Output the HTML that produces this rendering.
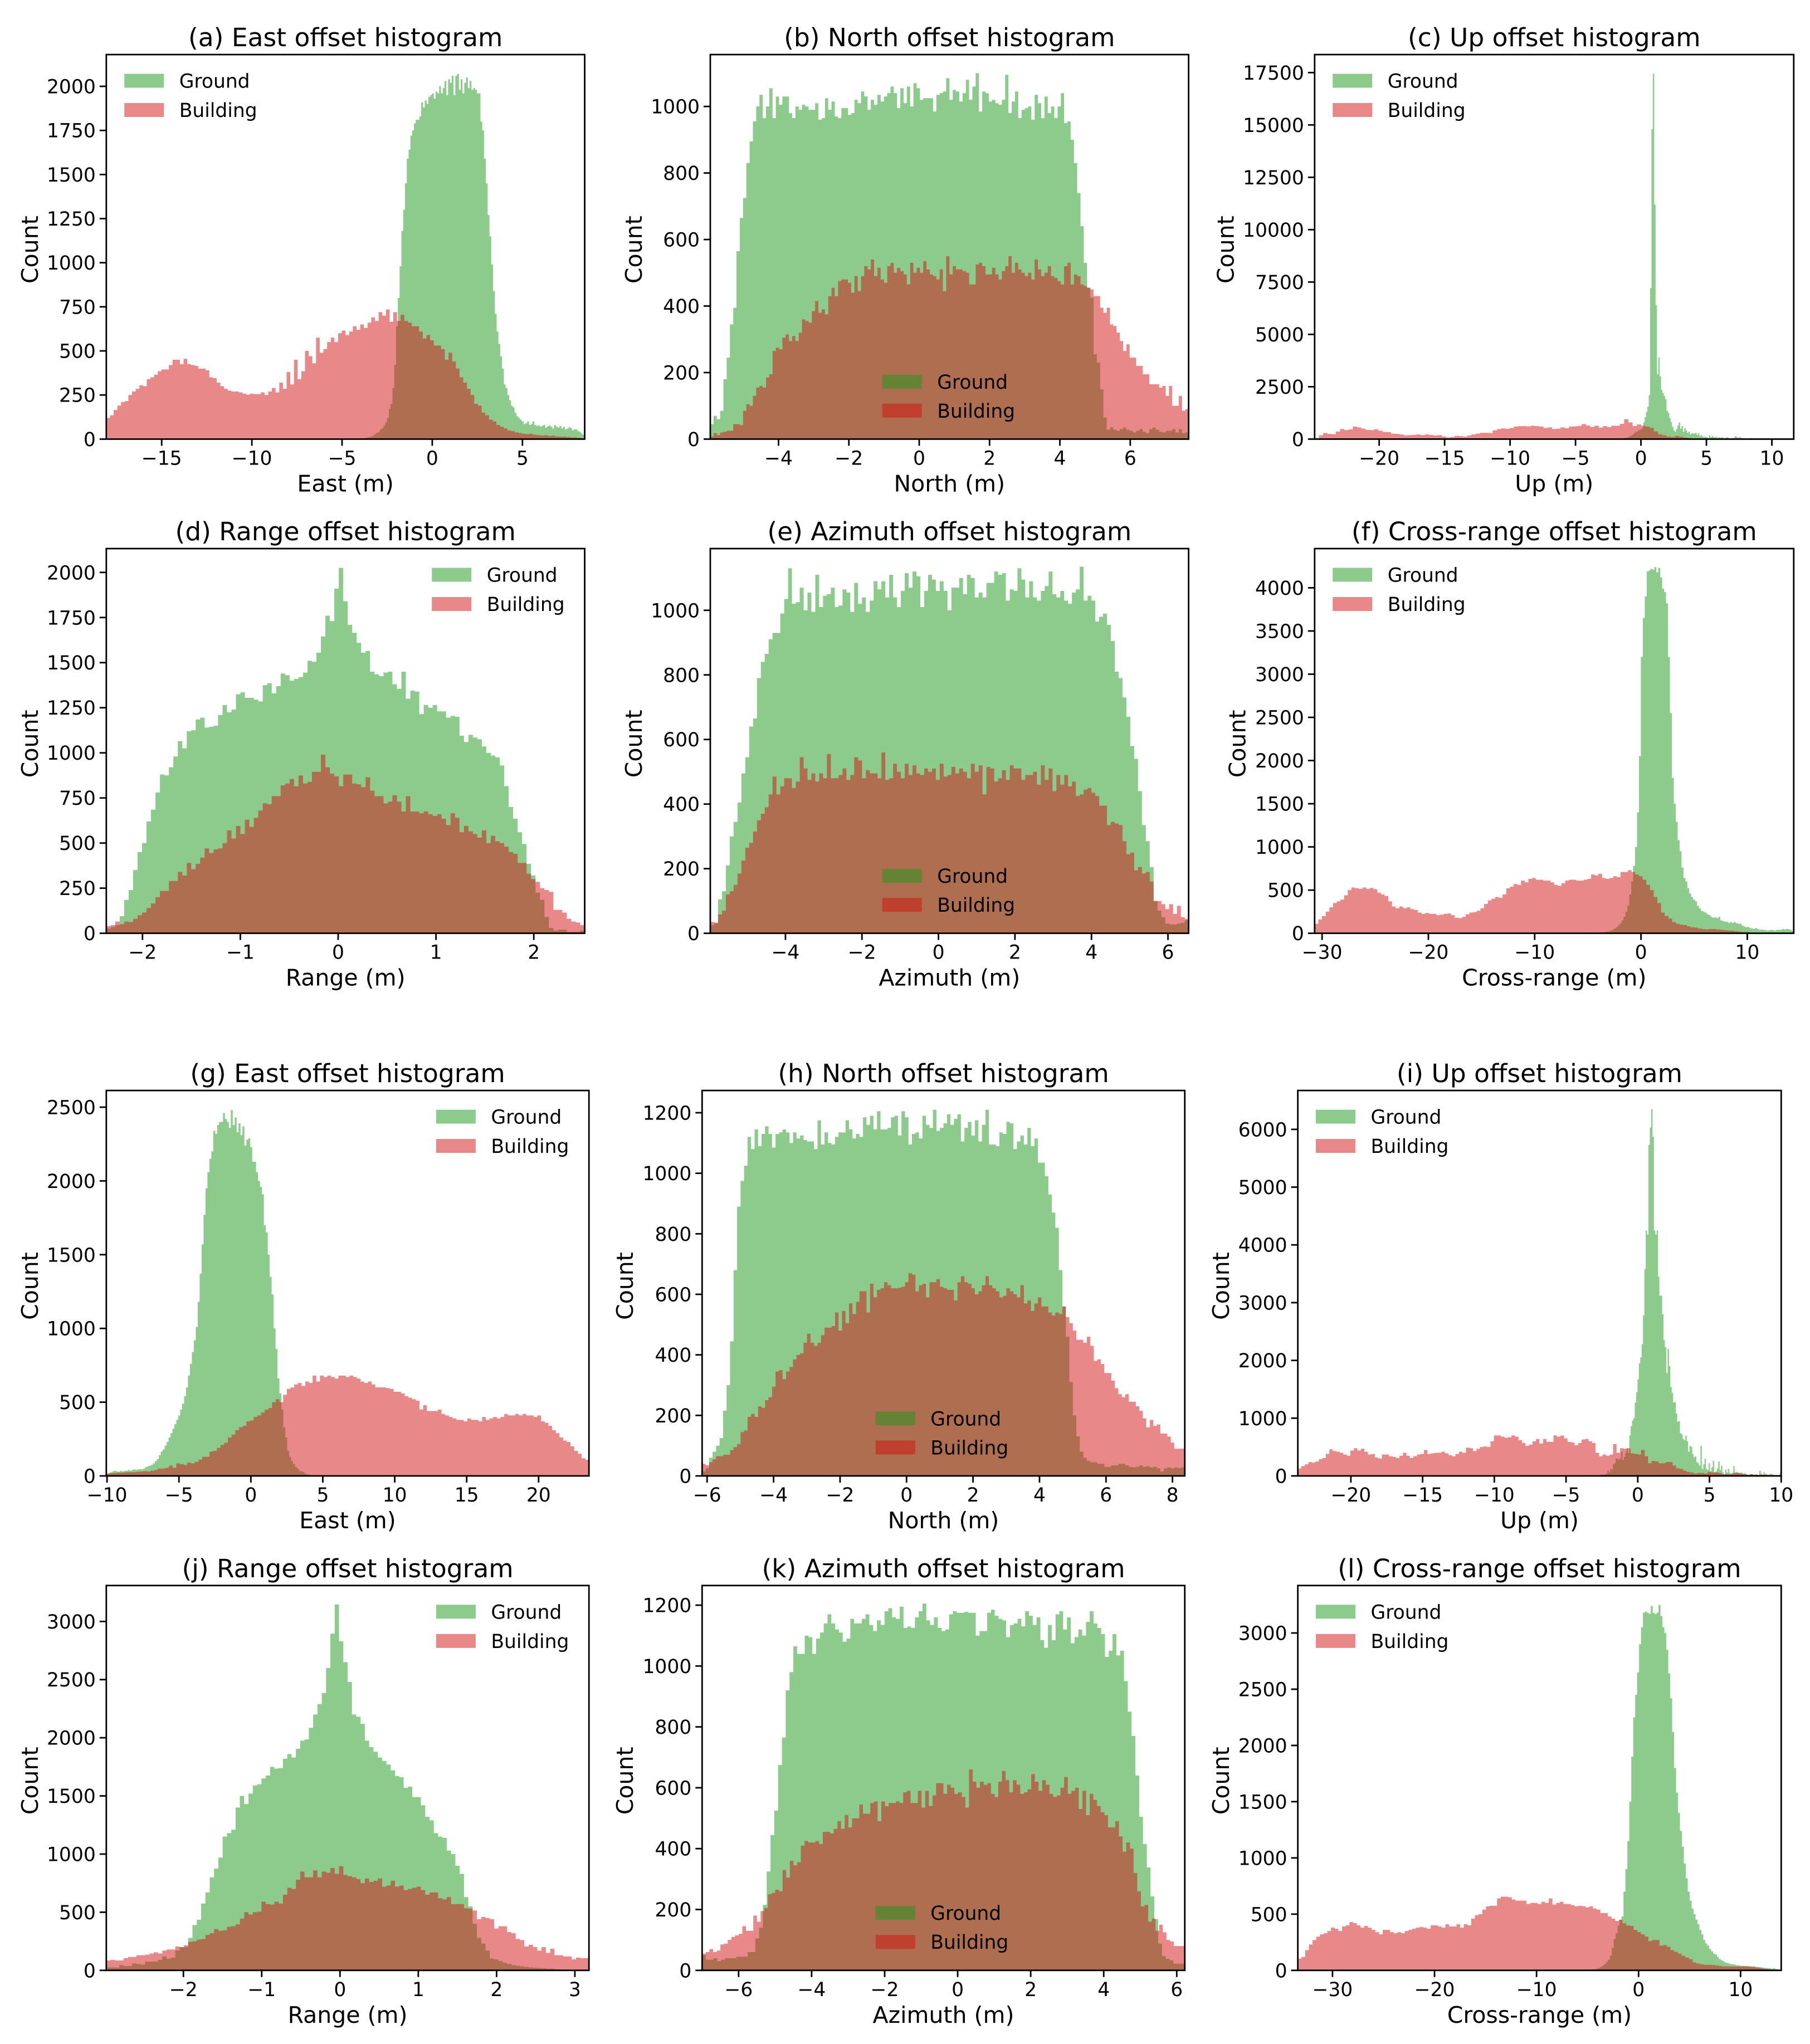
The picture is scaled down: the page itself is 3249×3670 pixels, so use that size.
<!DOCTYPE html>
<html lang="en">
<head>
<meta charset="utf-8">
<title>Offset histograms</title>
<style>
html,body{margin:0;padding:0;background:#fff;}
svg{display:block;}
text{font-family:"DejaVu Sans","Liberation Sans",sans-serif;fill:#000;}
</style>
</head>
<body>
<svg id="figure" width="3249" height="3670" viewBox="0 0 3249 3670" xmlns="http://www.w3.org/2000/svg"><rect width="3249" height="3670" fill="#fff"/></svg>
<script>
/* ---------- chart data: counts per bin ---------- */
const aGround=[2,4,5,8,10,12,16,20,28,35,40,55,62,75,95,120,170,200,290,420,640,800,980,1180,1300,1450,1590,1640,1720,1750,1790,1810,1810,1830,1910,1880,1920,1900,1940,1950,1960,1930,1970,1960,2000,1960,1990,2030,1950,2040,2020,2060,1950,2060,2070,1980,2040,1960,2020,2050,1990,2030,1980,1990,1980,1960,1960,1800,1750,1590,1450,1270,1150,990,840,710,610,540,470,400,310,290,250,220,190,180,150,130,120,110,100,85,90,100,80,85,100,80,75,78,70,75,80,65,72,78,70,60,80,70,65,75,60,70,55,60,68,62,50,55,55,45,40,30,25];
const aBuilding=[120,135,165,190,210,215,250,270,285,305,300,340,350,365,385,395,395,420,450,450,425,455,425,420,415,400,400,390,350,345,320,300,285,275,270,270,265,258,252,258,255,255,265,250,270,290,265,320,285,380,310,450,340,385,500,470,430,575,490,510,550,575,550,600,615,590,610,640,620,650,630,660,690,670,720,700,735,665,720,670,705,670,660,640,640,610,570,590,560,530,530,510,450,490,440,400,350,320,285,250,200,190,150,135,110,100,80,70,60,50,45,38,35,30,28,30,25,22,20,22,18,20,15,14,15,12,10,10,8,5];
const bGround=[45,70,60,85,180,245,345,395,565,665,725,830,895,955,1000,1035,965,1000,1055,965,1030,1005,1030,1030,980,965,1000,990,1005,1000,990,990,1010,960,965,1025,990,1015,970,965,995,995,975,980,1020,1010,1045,1030,990,1020,1005,1035,1015,1030,1040,1060,1040,995,1055,1010,1060,1000,1070,1055,1020,1025,1025,1025,985,1035,1040,1045,1085,1020,1050,1045,1015,1040,1080,1020,1060,1100,985,1045,1040,1015,1020,1010,1005,1020,1095,980,1015,1045,965,990,995,1000,960,1035,1010,965,1030,980,1000,965,1000,1040,950,955,900,830,740,640,530,455,425,255,230,150,65,28,35,28,25,30,35,28,25,20,25,30,22,18,30,35,28,22,20,25,25,30,20,30,18,20];
const bBuilding=[8,18,12,20,22,25,25,45,45,42,85,105,100,130,155,160,155,185,195,265,275,270,305,315,295,310,295,320,360,355,350,385,415,380,390,375,430,455,430,475,480,480,470,440,490,445,490,520,510,540,490,515,480,470,520,530,500,515,505,495,465,530,500,515,500,535,510,495,490,480,510,445,550,495,520,510,510,505,500,465,465,525,530,520,495,495,515,495,480,505,520,550,500,530,510,500,490,500,480,540,510,490,500,520,490,485,475,465,520,530,465,495,490,465,460,455,450,430,430,395,380,395,345,340,320,295,265,285,245,245,220,220,195,195,165,165,165,155,160,130,160,100,100,130,85,90];
const cGround=[20,30,40,50,60,80,100,150,180,220,280,340,350,400,430,460,520,800,1050,1300,1550,2100,7200,14800,17450,11200,6400,3100,3900,3000,2350,2200,2050,1900,1350,1250,1000,820,600,420,350,480,650,800,500,620,350,520,420,300,350,220,280,260,270,300,200,270,150,180,130,100,120,90,60,180,90,150,100,80,120,60,90,70,100,60,40,70,100,50,30,40,50,70,150,100,60,100,60,30,40,20,30,40,20,50,30,20,40,30,15,40,20,30,15,20,10,15,30,15,10,20,5,30,10,15,40,5,10,15,5,15,5,5,5,0,5];
const cBuilding=[50,180,290,250,230,360,480,430,460,600,560,500,440,430,470,400,340,330,260,250,220,180,190,200,220,190,220,200,170,190,130,80,100,150,140,120,170,220,260,300,300,290,420,480,510,490,530,600,620,620,610,640,620,600,530,560,480,500,560,520,600,610,630,720,650,580,640,550,620,570,640,640,730,950,800,620,700,640,600,540,370,230,180,120,100,150,110,70,50,40,30,30,20,15,20,12,10,10,8,6,5,4,3,3,3,2,2,2,1,1,1,1,0];
const dGround=[25,35,45,95,185,240,350,450,500,620,685,780,880,875,920,980,1065,1025,1120,1125,1185,1195,1140,1145,1150,1210,1265,1225,1240,1325,1335,1305,1305,1295,1285,1375,1385,1330,1370,1440,1430,1400,1410,1420,1445,1510,1505,1555,1645,1760,1730,1910,2025,1840,1710,1665,1610,1555,1565,1450,1435,1425,1445,1450,1380,1355,1450,1300,1345,1340,1215,1265,1250,1265,1230,1230,1195,1205,1200,1095,1060,1100,1085,1075,1035,1000,985,975,930,815,700,635,560,495,385,320,225,185,90,30,15,20,20,8,8,8,15];
const dBuilding=[40,45,65,50,65,62,80,100,115,140,165,200,235,235,290,290,340,320,390,355,385,420,470,445,465,470,500,570,525,595,550,630,590,640,680,720,715,760,760,820,830,855,815,875,830,840,895,895,990,920,885,870,815,880,880,830,825,810,865,790,760,760,720,730,765,730,675,760,675,675,665,675,660,650,660,635,600,665,640,560,595,565,550,530,570,500,540,510,500,480,450,440,390,390,330,300,285,250,240,230,130,130,115,80,65,60,45];
const eGround=[25,30,105,130,210,300,345,405,495,545,640,665,790,840,865,910,930,930,990,1035,1130,1020,1025,1070,1000,1055,995,1110,1010,1045,1050,1070,1010,1015,1065,1055,995,1085,1020,1040,995,1030,1090,1065,1090,1040,1110,1040,1010,1060,1115,1070,1120,1105,1010,1060,1110,1095,1060,1090,1060,1000,1070,1070,1100,1050,1110,1100,1040,1055,1040,1085,1085,1120,1110,1115,1030,1065,1060,1130,1095,1040,1090,1040,1030,1060,1075,1120,1050,1040,1060,1030,1020,1055,1065,1135,1030,1045,1030,965,980,990,955,905,810,790,730,670,580,540,440,335,285,205,100,70,50,30,28,27,30,32,40];
const eBuilding=[35,33,58,70,120,130,150,185,225,265,280,315,350,370,390,430,485,430,455,480,480,450,470,545,510,475,495,470,495,480,555,480,480,490,510,475,490,545,535,480,505,495,495,480,560,475,480,525,500,480,525,490,520,495,490,510,500,510,475,525,485,490,515,495,510,500,480,525,500,520,430,515,510,470,480,505,475,520,510,510,475,490,490,500,460,520,475,510,440,490,460,490,455,470,425,430,445,450,435,425,395,395,335,345,340,335,285,245,250,195,205,185,190,160,100,100,90,75,90,60,85,50,45];
const fGround=[2,3,5,6,8,10,12,15,18,22,30,40,55,70,90,115,150,190,250,320,450,600,780,1000,1400,2050,3200,3650,3900,4190,4200,4220,4210,4240,4180,4230,4120,3990,3950,3820,3200,2550,1800,1500,1290,1080,950,760,640,600,520,460,420,390,370,320,290,260,250,240,220,210,190,180,185,175,190,150,140,135,135,120,130,120,130,115,110,110,90,80,70,75,60,55,50,60,50,40,45,40,35,30,35,40,35,30,40,40,40,50,45,50,45,40,30];
const fBuilding=[110,160,200,250,300,350,370,390,440,500,530,520,515,530,515,525,510,470,450,430,370,310,290,310,290,300,280,270,240,225,235,225,225,210,215,225,230,210,180,175,190,220,240,245,260,290,340,380,400,420,410,450,520,540,570,560,610,590,630,640,620,620,610,610,590,560,550,580,610,620,620,610,610,620,630,680,670,690,640,630,640,660,650,710,710,730,710,680,660,620,560,500,420,350,240,200,170,130,110,100,95,80,70,65,55,50,45,50,50,45,40,35,32,30,25,20,15,15,10,8,6,5,4,3,2,2,1,1,1,0];
const gGround=[15,20,25,30,35,30,28,35,30,35,35,40,35,40,45,40,45,45,45,50,60,65,70,75,85,100,115,140,165,180,205,230,260,290,320,350,380,410,450,490,540,600,680,760,840,920,1010,1180,1370,1570,1770,1950,2060,2150,2200,2340,2320,2380,2400,2400,2460,2420,2400,2360,2480,2380,2430,2330,2390,2310,2370,2240,2280,2290,2230,2130,2130,2060,2000,1960,1910,1700,1650,1500,1350,1230,1000,860,660,560,450,330,260,170,130,100,80,60,50,35,30,25,15,10,8,5,5,4,3,3,2,2,1,1,1];
const gBuilding=[15,18,20,22,22,25,25,25,28,30,32,30,35,40,50,50,55,70,55,85,80,75,90,85,95,110,130,130,165,170,190,210,225,260,280,310,330,340,370,375,400,410,430,450,460,500,520,500,550,590,600,620,630,610,640,630,680,640,680,670,680,670,660,680,680,670,680,670,660,640,630,640,620,600,600,600,595,590,570,570,560,540,530,520,510,450,480,440,440,440,450,420,410,400,390,380,380,370,390,380,380,370,400,380,390,400,390,400,420,410,410,420,410,420,410,410,400,410,370,360,340,310,290,260,240,230,200,170,150,120,110];
const hGround=[15,25,60,80,100,125,215,300,445,680,890,975,1025,1120,1080,1145,1090,1130,1155,1130,1085,1130,1135,1145,1135,1100,1135,1115,1125,1110,1105,1105,1080,1175,1095,1135,1100,1095,1120,1135,1135,1175,1145,1115,1130,1120,1185,1160,1190,1145,1205,1145,1145,1150,1185,1190,1125,1205,1185,1095,1130,1135,1115,1190,1160,1150,1210,1140,1150,1165,1195,1160,1180,1195,1105,1150,1170,1125,1175,1105,1160,1210,1095,1095,1090,1135,1130,1170,1165,1080,1105,1125,1095,1150,1090,1115,1035,1035,990,930,870,820,680,560,460,310,200,130,80,60,50,45,45,40,40,30,30,35,35,40,40,35,30,28,30,35,30,32,28,30,25,15,25,28,25,28,26,28];
const hBuilding=[40,35,45,55,65,65,70,70,85,95,105,145,150,195,205,195,230,225,250,260,295,345,350,320,345,360,385,400,405,440,470,440,430,440,465,490,490,495,540,480,545,505,570,535,575,610,610,540,635,590,615,620,640,630,620,620,622,625,640,670,665,610,630,635,590,640,640,650,625,620,615,615,580,640,660,640,635,620,600,610,630,660,630,620,610,590,595,620,610,600,590,630,570,580,545,570,590,560,560,540,530,540,535,560,525,505,480,450,450,440,460,430,380,385,370,340,340,315,290,270,260,270,245,245,230,215,190,160,185,165,170,140,140,130,110,90,90,90];
const iGround=[5,5,5,5,5,5,5,5,5,5,5,5,10,15,10,15,20,20,20,30,40,90,60,120,110,200,220,300,300,280,300,420,280,330,400,480,400,700,860,960,1000,1270,1450,1670,1950,2050,2280,2780,3580,4250,4180,5730,6030,6350,5870,4250,4180,4250,3450,3120,3120,2800,2350,2230,1780,2200,1900,1540,1440,1270,1280,1080,940,950,740,720,640,620,700,600,420,520,500,380,320,340,240,220,180,520,120,200,300,120,100,220,80,150,260,60,80,130,250,100,180,60,30,110,60,120,50,40,40,170,60,70,60,50,60,50,40,50,30,20,10,30,30,20,20,30,20,10,90,40,20,60,30,30,20,30,40,30,20,10,20,10,20,60];
const iBuilding=[130,170,200,240,230,250,290,310,380,460,430,420,400,370,350,440,480,440,470,420,370,380,320,300,370,370,340,330,310,350,400,350,310,340,370,380,450,380,390,400,400,420,390,360,340,380,420,400,490,480,430,470,500,510,500,600,700,700,680,660,670,700,680,620,570,520,540,600,640,560,640,590,590,700,680,700,650,590,580,530,570,630,640,600,570,400,340,370,350,370,550,400,480,470,480,390,380,370,450,340,220,260,250,220,220,240,240,180,130,120,90,70,60,40,50,50,40,70,60,60,50,30,30,30,50,50,40,30,20,30,20,20,20,20,10,10,10,5];
const jGround=[25,25,25,45,38,38,60,55,50,75,75,75,90,120,100,110,170,200,200,280,390,435,575,670,800,875,970,1150,1180,1210,1400,1500,1430,1520,1590,1600,1650,1675,1750,1735,1740,1820,1860,1830,1905,1975,1985,2085,2200,2290,2385,2600,2895,3145,2830,2650,2480,2200,2180,2120,1975,1920,1880,1830,1800,1770,1720,1670,1660,1570,1580,1490,1490,1420,1320,1290,1180,1150,1140,1030,1000,900,830,630,550,400,280,230,170,100,95,80,65,55,45,40,35,30,25,22,20,18,15,15,10,8,8,6,5,4,3,2];
const jBuilding=[85,90,85,85,105,115,115,130,130,135,145,155,145,170,180,180,205,200,215,245,250,265,270,305,320,355,340,345,375,380,395,445,500,480,500,505,590,570,565,590,575,650,710,700,780,850,800,800,860,800,850,840,880,830,895,820,810,800,785,750,790,760,770,790,720,730,770,720,730,690,700,710,720,690,650,670,670,620,610,630,570,570,570,535,530,515,440,460,450,440,360,380,380,330,320,270,260,205,220,200,170,200,150,185,130,130,120,120,95,110,105,105];
const kGround=[50,35,35,40,30,35,40,40,40,45,45,45,60,60,105,140,215,325,445,525,675,765,920,980,1065,1040,1040,1100,1095,1040,1090,1110,1140,1170,1140,1120,1110,1080,1090,1155,1140,1140,1155,1170,1135,1115,1150,1135,1180,1190,1160,1155,1195,1125,1130,1125,1160,1180,1205,1150,1135,1160,1125,1115,1120,1170,1180,1175,1175,1178,1175,1175,1100,1115,1115,1175,1185,1165,1155,1150,1095,1135,1140,1155,1130,1180,1165,1135,1160,1085,1060,1135,1085,1170,1180,1120,1160,1075,1095,1120,1100,1145,1180,1140,1125,1105,1030,1050,1105,1035,1050,950,850,770,640,505,415,338,243,168,88,47,38,33,22,22,22];
const kBuilding=[55,60,70,60,65,85,88,100,110,115,120,145,130,130,180,160,195,205,250,255,265,260,330,305,360,345,355,410,425,420,420,425,415,455,455,450,465,490,465,510,470,500,500,545,515,515,550,555,490,555,540,550,550,555,550,585,590,550,550,590,535,590,540,575,615,615,580,610,600,580,585,570,535,660,620,600,620,610,615,580,570,620,655,625,585,625,610,580,585,595,645,620,590,625,610,580,570,575,600,635,580,590,600,530,590,510,580,560,540,520,510,470,470,490,440,390,420,400,320,260,210,215,160,170,130,150,125,100,95,80,80,80];
const lGround=[3,3,5,5,6,8,8,8,8,8,10,15,22,30,40,55,75,95,130,200,280,330,400,450,480,700,900,1150,1500,1900,2250,2450,2650,2900,3050,3180,3190,3180,3170,3240,3180,3170,3180,3250,3150,3050,3000,2850,2640,2420,2120,1800,1580,1400,1240,1100,950,820,700,620,550,500,450,410,360,320,270,240,220,190,170,150,140,120,100,90,80,70,65,60,55,55,50,45,45,40,40,38,38,35,35,35,35,30,30,28,25,22,22,20,18,15,20,12,10,8];
const lBuilding=[105,120,180,230,270,300,320,330,350,380,370,350,390,400,430,420,400,380,395,380,360,340,320,360,360,340,330,340,330,350,360,370,380,385,380,370,400,400,390,380,410,390,390,410,380,410,400,460,490,500,540,570,575,575,640,655,655,650,630,620,620,620,590,600,600,590,610,600,640,585,600,610,590,590,580,570,575,570,560,570,550,540,510,510,480,460,440,450,420,400,395,360,340,320,300,260,270,270,220,225,210,180,165,150,130,115,100,70,60,55,50,50,48,45,40,35,35,35,35,35,35,35,35,30,25,20,15,10,8,5,3];

/* bin ranges (metres) */
const aGroundRange=[-4,8.45], aBuildingRange=[-18.07,8.45];
const bGroundRange=[-5.94,7.66], bBuildingRange=[-5.94,7.66];
const cGroundRange=[-1.6,11.67], cBuildingRange=[-24.93,11.67];
const dGroundRange=[-2.37,2.52], dBuildingRange=[-2.37,2.52];
const eGroundRange=[-5.965,6.54], eBuildingRange=[-5.965,6.54];
const fGroundRange=[-4.74,14.37], fBuildingRange=[-30.7,14.37];
const gGroundRange=[-10.05,5.5], gBuildingRange=[-10.05,23.5];
const hGroundRange=[-6.15,8.37], hBuildingRange=[-6.15,8.37];
const iGroundRange=[-4.12,10], iBuildingRange=[-23.7,10];
const jGroundRange=[-2.985,3.18], jBuildingRange=[-2.985,3.18];
const kGroundRange=[-7,6.22], kBuildingRange=[-7,6.22];
const lGroundRange=[-6.25,13.98], lBuildingRange=[-33.4,13.98];

/* axis limits */
const aXLim=[-18.07,8.45], aYLim=[0,2180];
const bXLim=[-5.94,7.66], bYLim=[0,1156];
const cXLim=[-24.93,11.67], cYLim=[0,18360];
const dXLim=[-2.37,2.52], dYLim=[0,2132];
const eXLim=[-5.965,6.54], eYLim=[0,1191];
const fXLim=[-30.7,14.37], fYLim=[0,4454];
const gXLim=[-10.05,23.5], gYLim=[0,2613];
const hXLim=[-6.15,8.37], hYLim=[0,1273.5];
const iXLim=[-23.7,10], iYLim=[0,6673];
const jXLim=[-2.985,3.18], jYLim=[0,3309];
const kXLim=[-7,6.22], kYLim=[0,1264.5];
const lXLim=[-33.4,13.98], lYLim=[0,3422];

/* tick labels */
const aXTicks=[-15,-10,-5,0,5], aYTicks=[0,250,500,750,1000,1250,1500,1750,2000];
const bXTicks=[-4,-2,0,2,4,6], bYTicks=[0,200,400,600,800,1000];
const cXTicks=[-20,-15,-10,-5,0,5,10], cYTicks=[0,2500,5000,7500,10000,12500,15000,17500];
const dXTicks=[-2,-1,0,1,2], dYTicks=[0,250,500,750,1000,1250,1500,1750,2000];
const eXTicks=[-4,-2,0,2,4,6], eYTicks=[0,200,400,600,800,1000];
const fXTicks=[-30,-20,-10,0,10], fYTicks=[0,500,1000,1500,2000,2500,3000,3500,4000];
const gXTicks=[-10,-5,0,5,10,15,20], gYTicks=[0,500,1000,1500,2000,2500];
const hXTicks=[-6,-4,-2,0,2,4,6,8], hYTicks=[0,200,400,600,800,1000,1200];
const iXTicks=[-20,-15,-10,-5,0,5,10], iYTicks=[0,1000,2000,3000,4000,5000,6000];
const jXTicks=[-2,-1,0,1,2,3], jYTicks=[0,500,1000,1500,2000,2500,3000];
const kXTicks=[-6,-4,-2,0,2,4,6], kYTicks=[0,200,400,600,800,1000,1200];
const lXTicks=[-30,-20,-10,0,10], lYTicks=[0,500,1000,1500,2000,2500,3000];

/* ---------- layout ---------- */
const SVG_NS=document.getElementById('figure').namespaceURI;
const GROUND_FILL='#199719', BUILDING_FILL='#d11111', FILL_OPACITY=0.5;
const TICK_FS=34.5, LABEL_FS=41, TITLE_FS=45.5, LINE_W=2.8, TICK_LEN=12;
const COL_A={l:190.8,r:1049.5}, COL_B={l:1275,r:2133.6}, COL_C={l:2359.8,r:3219.8};
const COL_G={l:190.8,r:1057.2}, COL_H={l:1260.3,r:2126.7}, COL_I={l:2329.6,r:3197.3};
const ROW_1={t:98,b:788.4}, ROW_2={t:985,b:1675.7}, ROW_3={t:1958,b:2650}, ROW_4={t:2846.8,b:3537.8};

const panels=[
 {id:'a',title:'(a) East offset histogram',xlabel:'East (m)',col:COL_A,row:ROW_1,yl:68,leg:'ul',ground:aGround,building:aBuilding,gr:aGroundRange,br:aBuildingRange,xlim:aXLim,ylim:aYLim,xt:aXTicks,yt:aYTicks},
 {id:'b',title:'(b) North offset histogram',xlabel:'North (m)',col:COL_B,row:ROW_1,yl:1152,leg:'lc',ground:bGround,building:bBuilding,gr:bGroundRange,br:bBuildingRange,xlim:bXLim,ylim:bYLim,xt:bXTicks,yt:bYTicks},
 {id:'c',title:'(c) Up offset histogram',xlabel:'Up (m)',col:COL_C,row:ROW_1,yl:2214.5,leg:'ul',ground:cGround,building:cBuilding,gr:cGroundRange,br:cBuildingRange,xlim:cXLim,ylim:cYLim,xt:cXTicks,yt:cYTicks},
 {id:'d',title:'(d) Range offset histogram',xlabel:'Range (m)',col:COL_A,row:ROW_2,yl:68,leg:'ur',ground:dGround,building:dBuilding,gr:dGroundRange,br:dBuildingRange,xlim:dXLim,ylim:dYLim,xt:dXTicks,yt:dYTicks},
 {id:'e',title:'(e) Azimuth offset histogram',xlabel:'Azimuth (m)',col:COL_B,row:ROW_2,yl:1152,leg:'lc',ground:eGround,building:eBuilding,gr:eGroundRange,br:eBuildingRange,xlim:eXLim,ylim:eYLim,xt:eXTicks,yt:eYTicks},
 {id:'f',title:'(f) Cross-range offset histogram',xlabel:'Cross-range (m)',col:COL_C,row:ROW_2,yl:2235.6,leg:'ul',ground:fGround,building:fBuilding,gr:fGroundRange,br:fBuildingRange,xlim:fXLim,ylim:fYLim,xt:fXTicks,yt:fYTicks},
 {id:'g',title:'(g) East offset histogram',xlabel:'East (m)',col:COL_G,row:ROW_3,yl:68,leg:'ur',ground:gGround,building:gBuilding,gr:gGroundRange,br:gBuildingRange,xlim:gXLim,ylim:gYLim,xt:gXTicks,yt:gYTicks},
 {id:'h',title:'(h) North offset histogram',xlabel:'North (m)',col:COL_H,row:ROW_3,yl:1136,leg:'lc',ground:hGround,building:hBuilding,gr:hGroundRange,br:hBuildingRange,xlim:hXLim,ylim:hYLim,xt:hXTicks,yt:hYTicks},
 {id:'i',title:'(i) Up offset histogram',xlabel:'Up (m)',col:COL_I,row:ROW_3,yl:2206,leg:'ul',ground:iGround,building:iBuilding,gr:iGroundRange,br:iBuildingRange,xlim:iXLim,ylim:iYLim,xt:iXTicks,yt:iYTicks},
 {id:'j',title:'(j) Range offset histogram',xlabel:'Range (m)',col:COL_G,row:ROW_4,yl:68,leg:'ur',ground:jGround,building:jBuilding,gr:jGroundRange,br:jBuildingRange,xlim:jXLim,ylim:jYLim,xt:jXTicks,yt:jYTicks},
 {id:'k',title:'(k) Azimuth offset histogram',xlabel:'Azimuth (m)',col:COL_H,row:ROW_4,yl:1136,leg:'lc',ground:kGround,building:kBuilding,gr:kGroundRange,br:kBuildingRange,xlim:kXLim,ylim:kYLim,xt:kXTicks,yt:kYTicks},
 {id:'l',title:'(l) Cross-range offset histogram',xlabel:'Cross-range (m)',col:COL_I,row:ROW_4,yl:2206,leg:'ul',ground:lGround,building:lBuilding,gr:lGroundRange,br:lBuildingRange,xlim:lXLim,ylim:lYLim,xt:lXTicks,yt:lYTicks}
];

function make(tag,attrs,parent,txt){
  const el=document.createElementNS(SVG_NS,tag);
  for(const k in attrs) el.setAttribute(k,attrs[k]);
  if(txt!==undefined) el.textContent=txt;
  parent.appendChild(el);
  return el;
}
function fmt(v){ return (v<0?'\u2212':'')+Math.abs(v); }
function histPath(counts,range,sx,sy){
  const w=(range[1]-range[0])/counts.length;
  let d='M'+sx(range[0]).toFixed(2)+' '+sy(0).toFixed(2);
  counts.forEach(function(c,i){
    const y=sy(c).toFixed(2);
    d+='V'+y+'H'+sx(range[0]+(i+1)*w).toFixed(2);
  });
  return d+'V'+sy(0).toFixed(2)+'Z';
}

const root=document.getElementById('figure');
panels.forEach(function(p){
  const L=p.col.l,R=p.col.r,T=p.row.t,B=p.row.b;
  const sx=function(v){return L+(v-p.xlim[0])/(p.xlim[1]-p.xlim[0])*(R-L);};
  const sy=function(v){return B-(v-p.ylim[0])/(p.ylim[1]-p.ylim[0])*(B-T);};

  const g=make('g',{},root);
  
  

  const clip=make('clipPath',{id:'clip-'+p.id},g);
  make('rect',{x:L,y:T,width:R-L,height:B-T},clip);

  const marks=make('g',{'clip-path':'url(#clip-'+p.id+')'},g);
  
  

  const gPath=make('path',{d:histPath(p.ground,p.gr,sx,sy),fill:GROUND_FILL,'fill-opacity':FILL_OPACITY},marks);
  
  

  const bPath=make('path',{d:histPath(p.building,p.br,sx,sy),fill:BUILDING_FILL,'fill-opacity':FILL_OPACITY},marks);
  
  

  p.xt.forEach(function(v){
    const x=sx(v);
    const tick=make('line',{x1:x,x2:x,y1:B,y2:B+TICK_LEN,stroke:'#000','stroke-width':LINE_W},g);
    
    
    const lab=make('text',{x:x,y:B+46,'text-anchor':'middle','font-size':TICK_FS},g,fmt(v));
    
    
  });
  p.yt.forEach(function(v){
    const y=sy(v);
    const tick=make('line',{x1:L-TICK_LEN,x2:L,y1:y,y2:y,stroke:'#000','stroke-width':LINE_W},g);
    
    
    const lab=make('text',{x:L-19,y:y+12.5,'text-anchor':'end','font-size':TICK_FS},g,fmt(v));
    
    
  });

  const frame=make('rect',{x:L,y:T,width:R-L,height:B-T,fill:'none',stroke:'#000','stroke-width':LINE_W},g);
  
  

  const title=make('text',{x:(L+R)/2,y:T-15,'text-anchor':'middle','font-size':TITLE_FS},g,p.title);
  
  

  const xl=make('text',{x:(L+R)/2,y:B+94,'text-anchor':'middle','font-size':LABEL_FS},g,p.xlabel);
  
  

  const yc=(T+B)/2+5;
  const yl=make('text',{x:p.yl,y:yc,'text-anchor':'middle','font-size':LABEL_FS,transform:'rotate(-90 '+p.yl+' '+yc+')'},g,'Count');
  
  

  let patchX,patchY1,patchY2;
  if(p.leg==='ul'){patchX=L+32.4;patchY1=T+34.5;patchY2=T+87;}
  else if(p.leg==='ur'){patchX=R-274.3;patchY1=T+34.5;patchY2=T+87;}
  else{patchX=L+(p.id==='h'||p.id==='k'?311.5:308.7);patchY1=B-115.6;patchY2=B-63.6;}
  const legend=make('g',{},g);
  
  

  const lp1=make('rect',{x:patchX,y:patchY1,width:71,height:25,fill:GROUND_FILL,'fill-opacity':FILL_OPACITY},legend);
  
  
  const lt1=make('text',{x:patchX+98.5,y:patchY1+25,'font-size':TICK_FS},legend,'Ground');
  
  
  const lp2=make('rect',{x:patchX,y:patchY2,width:71,height:25,fill:BUILDING_FILL,'fill-opacity':FILL_OPACITY},legend);
  
  
  const lt2=make('text',{x:patchX+98.5,y:patchY2+25,'font-size':TICK_FS},legend,'Building');
  
  
});
</script>
</body>
</html>
